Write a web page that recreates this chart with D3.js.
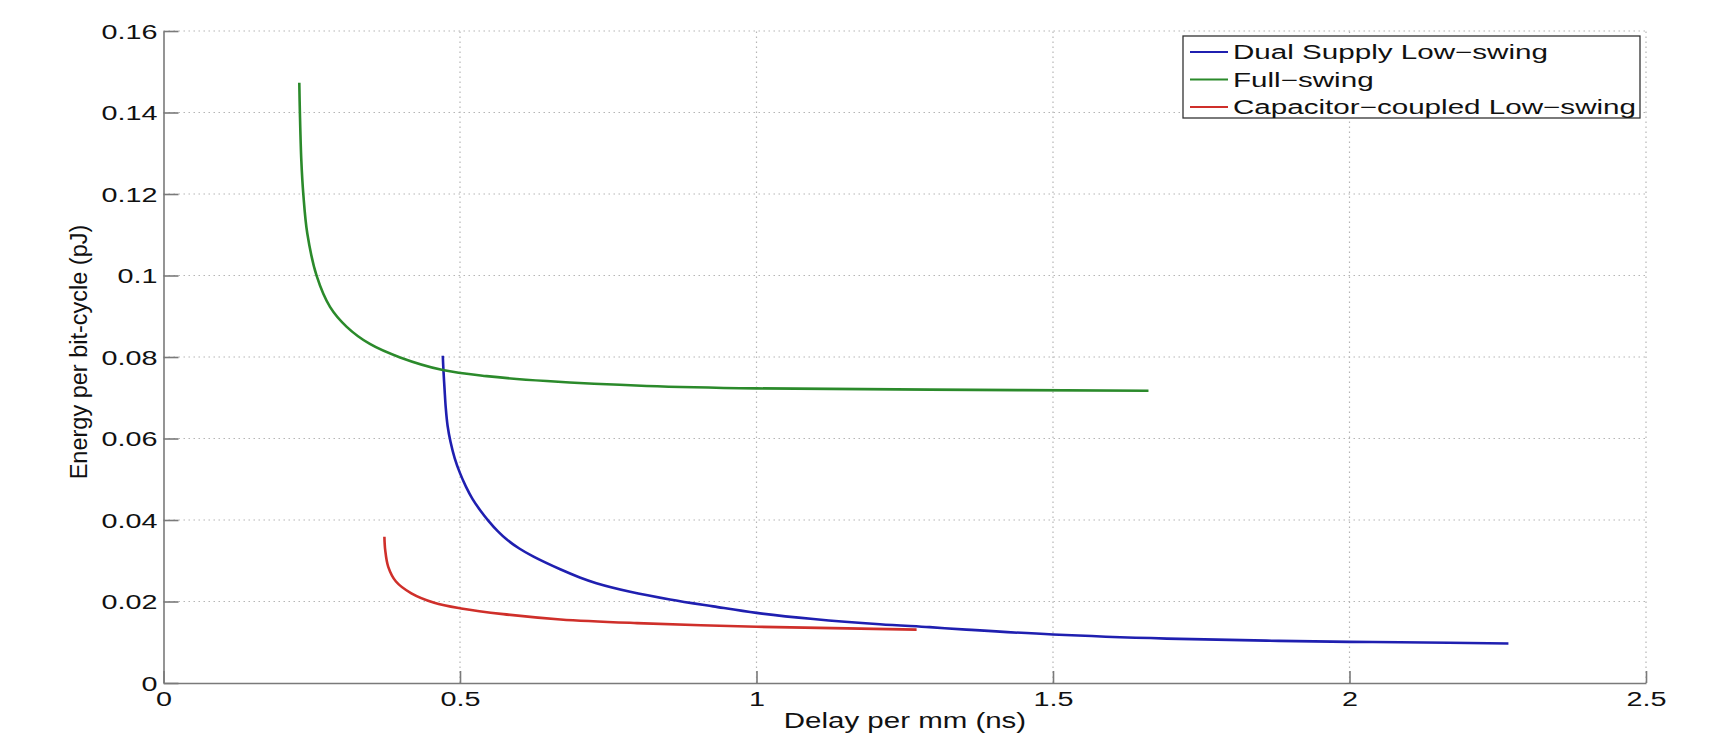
<!DOCTYPE html>
<html>
<head>
<meta charset="utf-8">
<script src="https://cdn.jsdelivr.net/npm/d3@7"></script>
<style>
  body { margin: 0; background: #fff; }
  text { font-family: "Liberation Sans", Arial, Helvetica, sans-serif; fill: #111; }
</style>
</head>
<body>
<div id="chart"></div>
<script>
// data: [delay per mm (ns), energy per bit-cycle (pJ)]
var seriesNames = ["Dual Supply Low\u2212swing", "Full\u2212swing", "Capacitor\u2212coupled Low\u2212swing"];

var dualSupply = [
  [0.471, 0.0803], [0.472, 0.0770], [0.474, 0.0720], [0.476, 0.0675], [0.479, 0.0632],
  [0.484, 0.0592], [0.491, 0.0552], [0.500, 0.0515], [0.510, 0.0482], [0.521, 0.0452],
  [0.534, 0.0424], [0.548, 0.0398], [0.564, 0.0372], [0.579, 0.0352], [0.600, 0.0330],
  [0.624, 0.0310], [0.669, 0.0279], [0.702, 0.0259], [0.730, 0.0245], [0.787, 0.0224],
  [0.854, 0.0205], [0.927, 0.0188], [1.000, 0.0172], [1.096, 0.0157], [1.208, 0.0144],
  [1.292, 0.0137], [1.354, 0.0131], [1.500, 0.0119], [1.692, 0.0109], [1.860, 0.0104],
  [2.000, 0.0101], [2.085, 0.0100], [2.268, 0.0097]
];

var fullSwing = [
  [0.229, 0.1473], [0.230, 0.1400], [0.2324, 0.1283], [0.2358, 0.1199], [0.2425, 0.1103],
  [0.2583, 0.0999], [0.2808, 0.0923], [0.309, 0.0874], [0.348, 0.0832], [0.399, 0.0799],
  [0.471, 0.0768], [0.545, 0.0753], [0.646, 0.0741], [0.815, 0.0729], [1.000, 0.0723],
  [1.292, 0.0720], [1.661, 0.0717]
];

var capCoupled = [
  [0.3725, 0.0359], [0.3739, 0.0326], [0.379, 0.0285], [0.392, 0.0249], [0.418, 0.0220],
  [0.4565, 0.0197], [0.502, 0.0183], [0.573, 0.0169], [0.6695, 0.0156], [0.7985, 0.0147],
  [1.000, 0.0138], [1.153, 0.0134], [1.270, 0.0131]
];

var xTicks = [0, 0.5, 1, 1.5, 2, 2.5];
var xTickLabels = ["0", "0.5", "1", "1.5", "2", "2.5"];
var yTicks = [0, 0.02, 0.04, 0.06, 0.08, 0.1, 0.12, 0.14, 0.16];
var yTickLabels = ["0", "0.02", "0.04", "0.06", "0.08", "0.1", "0.12", "0.14", "0.16"];

(function() {
  var width = 1729,
      height = 739;

  var colors = ["#1f1fb0", "#2b8a2b", "#cf2f2a"];
  var stretch = 1.37; // the picture is wider than it is tall

  var svg = d3.select("#chart")
    .append("svg")
    .attr("width", width)
    .attr("height", height)
    .style("background", "#fff");

  var x = d3.scaleLinear().domain([0, 2.5]).range([163.5, 1646]);
  var y = d3.scaleLinear().domain([0, 0.16]).range([683, 31]);

  // dotted grid
  var grid = svg.append("g").attr("class", "grid");
  grid.selectAll(".gx")
    .data(xTicks.filter(function(d) { return d > 0; }))
    .enter().append("line")
    .attr("x1", function(d) { return x(d); })
    .attr("x2", function(d) { return x(d); })
    .attr("y1", y(0))
    .attr("y2", y(0.16))
    .attr("stroke", "#b5b5b5")
    .attr("stroke-width", 1.2)
    .attr("stroke-dasharray", "1.5,3.5");
  grid.selectAll(".gy")
    .data(yTicks.filter(function(d) { return d > 0; }))
    .enter().append("line")
    .attr("x1", x(0))
    .attr("x2", x(2.5))
    .attr("y1", function(d) { return y(d); })
    .attr("y2", function(d) { return y(d); })
    .attr("stroke", "#b5b5b5")
    .attr("stroke-width", 1.2)
    .attr("stroke-dasharray", "1.5,3.5");

  // axes, ticks pointing inward like matlab
  var xAxis = svg.append("g")
    .attr("transform", "translate(0," + y(0) + ")")
    .call(d3.axisBottom(x)
      .tickValues(xTicks)
      .tickFormat(function(d, i) { return xTickLabels[i]; })
      .tickSizeInner(-12)
      .tickSizeOuter(0));

  var yAxis = svg.append("g")
    .attr("transform", "translate(" + x(0) + ",0)")
    .call(d3.axisLeft(y)
      .tickValues(yTicks)
      .tickFormat(function(d, i) { return yTickLabels[i]; })
      .tickSizeInner(-15)
      .tickSizeOuter(0));

  [xAxis, yAxis].forEach(function(ax) {
    ax.selectAll("path, line").attr("stroke", "#7a7a7a").attr("stroke-width", 1.6);
    ax.selectAll("text")
      .attr("fill", "#111")
      .style("font-size", "21px")
      .style("font-family", "'Liberation Sans', Arial, sans-serif");
  });

  xAxis.selectAll("text")
    .attr("y", 0)
    .attr("dy", "0.35em")
    .attr("transform", "translate(0,16) scale(" + stretch + ",1)");

  yAxis.selectAll("text")
    .attr("x", 0)
    .attr("dy", "0.35em")
    .attr("transform", "translate(-6,0) scale(" + stretch + ",1)");

  // axis titles
  svg.append("text")
    .attr("text-anchor", "middle")
    .attr("dy", "0.35em")
    .attr("transform", "translate(905,720) scale(1.34,1)")
    .style("font-size", "22px")
    .text("Delay per mm (ns)");

  svg.append("text")
    .attr("text-anchor", "middle")
    .attr("dy", "0.35em")
    .attr("transform", "translate(79,352) rotate(-90)")
    .style("font-size", "23.5px")
    .text("Energy per bit-cycle (pJ)");

  // the three curves
  var line = d3.line()
    .x(function(d) { return x(d[0]); })
    .y(function(d) { return y(d[1]); })
    .curve(d3.curveCatmullRom.alpha(0.5));

  var allSeries = [dualSupply, fullSwing, capCoupled];

  svg.selectAll(".series")
    .data(allSeries)
    .enter().append("path")
    .attr("class", "series")
    .attr("d", line)
    .attr("fill", "none")
    .attr("stroke", function(d, i) { return colors[i]; })
    .attr("stroke-width", 2.6)
    .attr("stroke-linejoin", "round");

  // legend box in the top right corner
  var legend = svg.append("g").attr("transform", "translate(1183,36)");
  legend.append("rect")
    .attr("width", 457)
    .attr("height", 82)
    .attr("fill", "#fff")
    .attr("stroke", "#333")
    .attr("stroke-width", 1.3);

  var rows = legend.selectAll(".row")
    .data(seriesNames)
    .enter().append("g")
    .attr("transform", function(d, i) { return "translate(0," + (16 + i * 27.5) + ")"; });

  rows.append("line")
    .attr("x1", 7)
    .attr("x2", 45)
    .attr("stroke", function(d, i) { return colors[i]; })
    .attr("stroke-width", 2);

  rows.append("text")
    .attr("dy", "0.35em")
    .attr("transform", "translate(50,0) scale(1.48,1)")
    .style("font-size", "20px")
    .text(function(d) { return d; });
})();
</script>
</body>
</html>
